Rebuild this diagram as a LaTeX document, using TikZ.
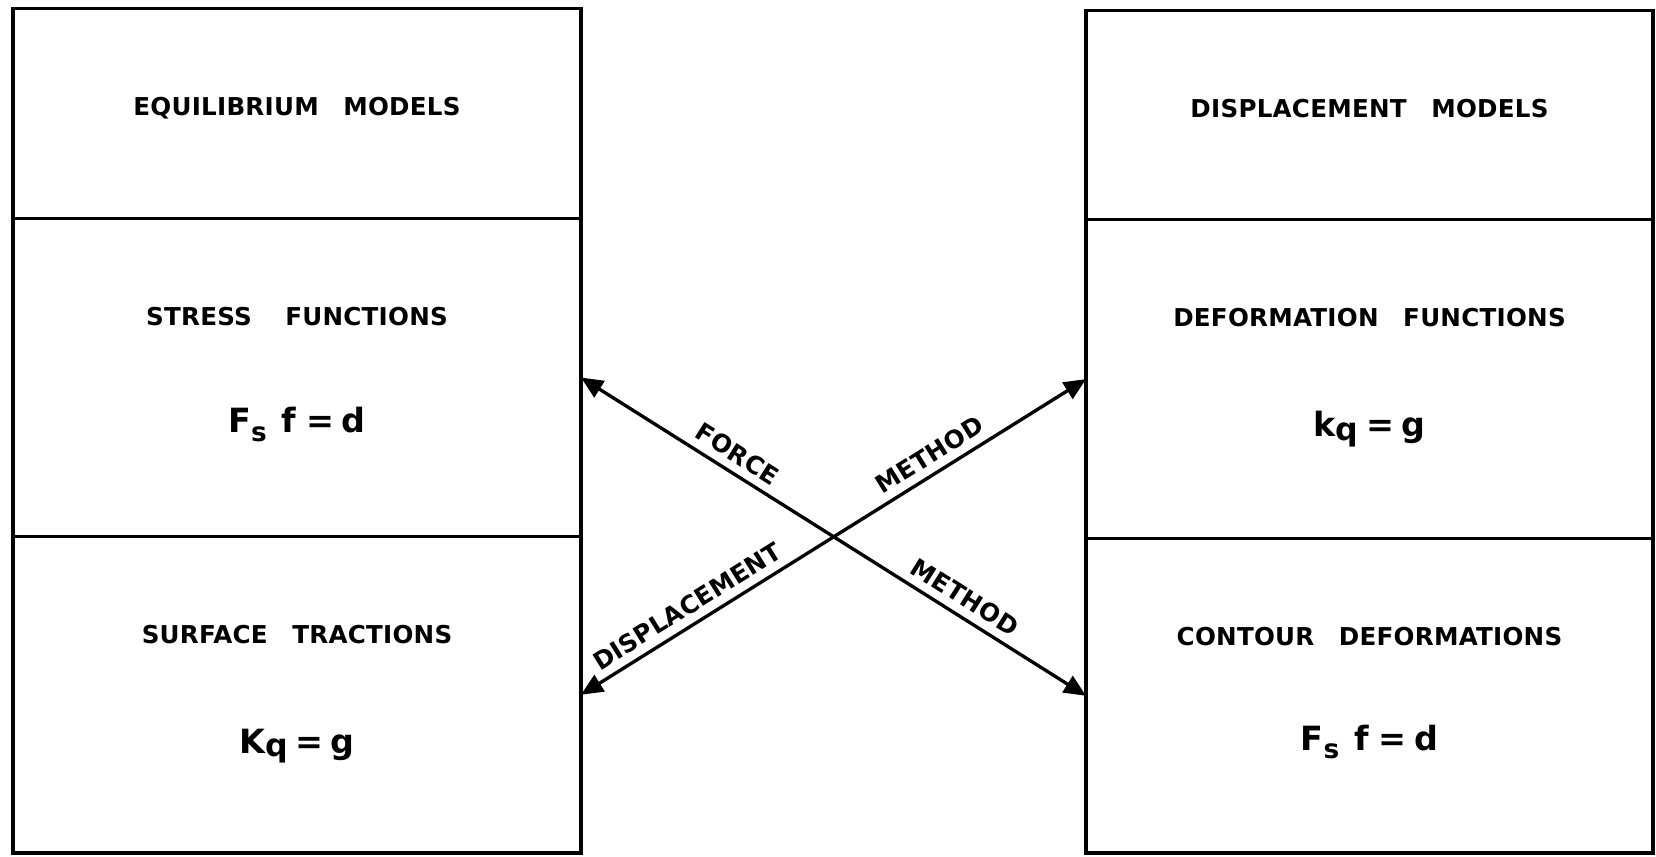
\documentclass[tikz,border=0pt]{standalone}
\usepackage{fontspec}
\setmainfont{DejaVu Sans}
\newfontfamily\lettering{DejaVu Sans Bold}[LetterSpace=1]
\usepackage{tikz}
\usetikzlibrary{arrows.meta,positioning}

% lowered index in the formulas
\newcommand{\lowsub}[3]{\raisebox{-#2}{\fontsize{#3}{#3}\selectfont #1}}

\tikzset{
  part/.style={draw, line width=2pt, inner sep=0pt, outer sep=0pt},
  title/.style={anchor=base, font=\lettering\fontsize{14}{17}\selectfont},
  formula/.style={anchor=base, font=\lettering\fontsize{19}{23}\selectfont},
  method/.style={{Triangle[length=4.4mm,width=3.8mm]}-{Triangle[length=4.4mm,width=3.8mm]}, line width=1.9pt},
  tag/.style={sloped, above, inner sep=4.5pt, font=\lettering\fontsize{14}{17}\selectfont}
}

\begin{document}
\begin{tikzpicture}[x=0.02cm, y=-0.02cm]
    \useasboundingbox (0,0) rectangle (1656,856);
    % equilibrium column
    \node[part, minimum width=11.36cm, minimum height=4.2cm] (eqm) at (297,113.5) {};
    \node[part, minimum width=11.36cm, minimum height=6.36cm] (stress) at (297,377.5) {};
    \node[part, minimum width=11.36cm, minimum height=6.33cm] (surf) at (297,694.8) {};
    \node[title] (eqmt) at ([yshift=-2.14cm]eqm.north) {EQUILIBRIUM\quad MODELS};
    \node[title] (stresst) at ([yshift=-2.14cm]stress.north) {STRESS\quad\ FUNCTIONS};
    \node[formula] (stressf) at ([yshift=-4.29cm]stress.north) {F\lowsub{s}{5pt}{15}\hspace{0.3cm}f\hspace{0.2cm}=\hspace{0.15cm}d};
    \node[title] (surft) at ([yshift=-2.14cm]surf.north) {SURFACE\quad TRACTIONS};
    \node[formula] (surff) at ([yshift=-4.33cm]surf.north) {K\lowsub{q}{2pt}{18}\hspace{0.15cm}=\hspace{0.15cm}g};
    % displacement column
    \node[part, minimum width=11.34cm, minimum height=4.18cm] (disp) at (1369.5,115.1) {};
    \node[part, minimum width=11.34cm, minimum height=6.38cm] (deform) at (1369.5,379.1) {};
    \node[part, minimum width=11.34cm, minimum height=6.29cm] (contour) at (1369.5,695.8) {};
    \node[title] (dispt) at ([yshift=-2.14cm]disp.north) {DISPLACEMENT\quad MODELS};
    \node[title] (deformt) at ([yshift=-2.14cm]deform.north) {DEFORMATION\quad FUNCTIONS};
    \node[formula] (deformf) at ([yshift=-4.34cm]deform.north) {k\lowsub{q}{2pt}{18}\hspace{0.15cm}=\hspace{0.15cm}g};
    \node[title] (contourt) at ([yshift=-2.14cm]contour.north) {CONTOUR\quad DEFORMATIONS};
    \node[formula] (contourf) at ([yshift=-4.23cm]contour.north) {F\lowsub{s}{5pt}{15}\hspace{0.3cm}f\hspace{0.2cm}=\hspace{0.15cm}d};
    % the two methods
    \draw[method] (stress.east) -- node[tag, pos=0.29] {FORCE} node[tag, pos=0.74] {METHOD} (contour.west);
    \draw[method] (surf.east) -- node[tag, pos=0.23] {DISPLACEMENT} node[tag, pos=0.71] {METHOD} (deform.west);
\end{tikzpicture}
\end{document}
